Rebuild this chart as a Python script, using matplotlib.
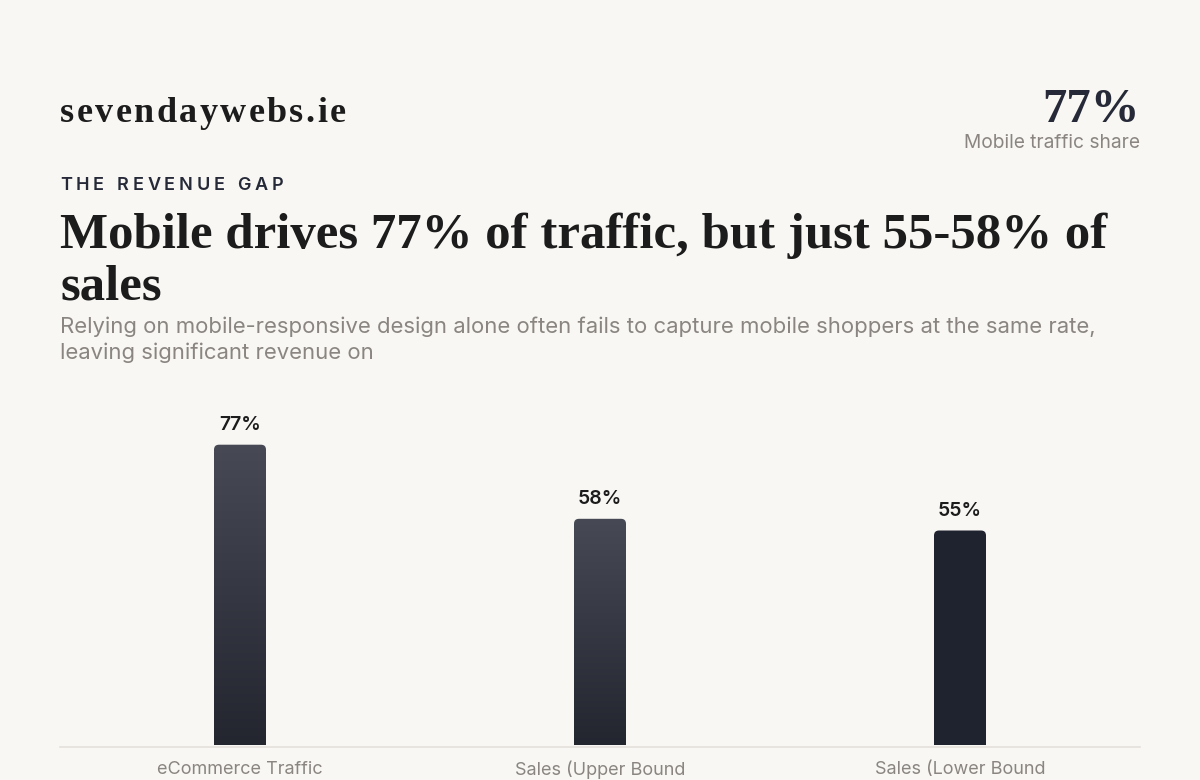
import numpy as np
import matplotlib
matplotlib.use('Agg')
import matplotlib.pyplot as plt
from matplotlib.colors import LinearSegmentedColormap
from matplotlib.patches import FancyBboxPatch

# data
categories = ['eCommerce Traffic', 'Sales (Upper Bound', 'Sales (Lower Bound']
values = [77, 58, 55]
value_labels = ['77%', '58%', '55%']

BG = '#f8f7f3'
DARK = '#1c1c1c'
NAVY = '#262a38'
GRAY = '#8a8580'
SERIF = ['Liberation Serif', 'DejaVu Serif']
SANS = ['Inter', 'DejaVu Sans']

W, H = 1200, 780
fig = plt.figure(figsize=(W / 100, H / 100), dpi=100, facecolor=BG)


def px(x, y):
    return x / W, 1 - y / H


def spaced_text(x, y, s, spacing, **kw):
    # draw characters one by one to get letter spacing
    r = fig.canvas.get_renderer()
    cx = x
    for ch in s:
        t = fig.text(*px(cx, y), ch, **kw)
        w = t.get_window_extent(renderer=r).width
        if ch == ' ':
            w = t.get_fontsize() * 100 / 72 * 0.28
        cx += w + spacing


# header
spaced_text(60, 122, 'sevendaywebs.ie', 2.4, fontsize=26, fontweight='bold',
            family=SERIF, color=DARK, va='baseline')
fig.text(*px(1140, 122), '77%', fontsize=35, fontweight='bold', family=SERIF,
         color=NAVY, ha='right', va='baseline')
fig.text(*px(1140, 143), 'Mobile traffic share', fontsize=13.8, family=SANS,
         color=GRAY, ha='right', va='center')

spaced_text(60, 190, 'THE REVENUE GAP', 3.8, fontsize=13, fontweight='semibold',
            family=SANS, color=NAVY, va='baseline')
fig.text(*px(60, 248), 'Mobile drives 77% of traffic, but just 55-58% of',
         fontsize=36.6, fontweight='bold', family=SERIF, color=DARK, va='baseline')
fig.text(*px(60, 300), 'sales', fontsize=36.6, fontweight='bold', family=SERIF,
         color=DARK, va='baseline')
fig.text(*px(60, 327), 'Relying on mobile-responsive design alone often fails to capture mobile shoppers at the same rate,',
         fontsize=15.9, family=SANS, color=GRAY, va='center')
fig.text(*px(60, 353), 'leaving significant revenue on', fontsize=15.9, family=SANS,
         color=GRAY, va='center')

# chart
ax = fig.add_axes([60 / W, 1 - 745 / H, 1080 / W, 390 / H])
ax.set_facecolor('none')
ax.axis('off')

x_unit = 1080 / len(categories)
y_unit = 390 / 100
bw = 52 / x_unit
rad = 5 / x_unit

grad = LinearSegmentedColormap.from_list('bar', ['#23262f', '#474a55'])
fills = [grad, grad, None]

for i, (v, lab) in enumerate(zip(values, value_labels)):
    patch = FancyBboxPatch((i - bw / 2, -5), bw, v + 5,
                           boxstyle=f'round,pad=0,rounding_size={rad}',
                           mutation_aspect=x_unit / y_unit,
                           facecolor='#1f2330' if fills[i] is None else 'none',
                           edgecolor='none', zorder=2)
    ax.add_patch(patch)
    if fills[i] is not None:
        g = np.linspace(0, 1, 256).reshape(-1, 1)
        im = ax.imshow(g, cmap=fills[i], origin='lower', aspect='auto',
                       extent=[i - bw / 2, i + bw / 2, 0, v], zorder=2)
        im.set_clip_path(patch)
    ax.text(i, v + 5.0, lab, ha='center', va='center', fontsize=14,
            fontweight='semibold', family=SANS, color=DARK)

ax.set_xlim(-0.5, len(categories) - 0.5)
ax.set_ylim(0, 100)

fig.add_artist(plt.Line2D([60 / W, 1140 / W], [1 - 747 / H] * 2,
                          color='#e4e1db', lw=1.2))

for i, c in enumerate(categories):
    fig.text(*px(240 + i * 360, 770), c, ha='center', va='center', fontsize=13,
             family=SANS, color=GRAY)

fig.savefig('out.png', dpi=100, facecolor=BG)
